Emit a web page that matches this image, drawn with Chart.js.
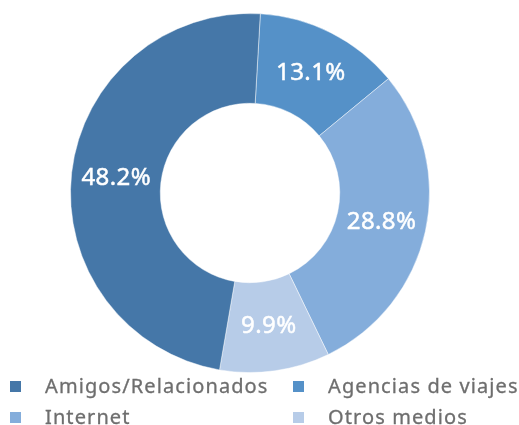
<!DOCTYPE html>
<html>
<head>
<meta charset="utf-8">
<script src="https://cdn.jsdelivr.net/npm/chart.js@4"></script>
<style>
  html, body { margin: 0; padding: 0; background: #fff; }
  #wrap { position: relative; width: 519px; height: 425px; }
  #chart-box { position: absolute; left: 0; top: 0; width: 519px; height: 373px; }
  #legend { position: absolute; left: 0; top: 372px; width: 519px; font-family: "Noto Sans", sans-serif; font-size: 20px; letter-spacing: 1.1px; color: #6e6e6e; }
  .item { position: absolute; height: 28px; line-height: 28px; white-space: nowrap; }
  .box { position: absolute; width: 11px; height: 11px; top: 9px; }
  .txt { position: absolute; -webkit-text-stroke: 0.3px #6e6e6e; }
</style>
</head>
<body>
<div id="wrap">
  <div id="chart-box"><canvas id="pie"></canvas></div>
  <div id="legend"></div>
</div>
<script>
// categories and shares (%)
const labels = ['Agencias de viajes', 'Internet', 'Otros medios', 'Amigos/Relacionados'];
const values = [13.1, 28.8, 9.9, 48.2];
const colors = ['#5591c8', '#84addb', '#b7cce8', '#4577a8'];

// legend order: two columns
const legendOrder = [3, 0, 1, 2];

// draws the percentage inside each slice
const sliceLabels = {
    id: 'sliceLabels',
    afterDatasetsDraw(chart) {
        const ctx = chart.ctx;
        const meta = chart.getDatasetMeta(0);
        ctx.save();
        ctx.fillStyle = '#ffffff';
        ctx.strokeStyle = '#ffffff';
        ctx.lineWidth = 0.5;
        ctx.font = '24px "Noto Sans", sans-serif';
        ctx.letterSpacing = '0.4px';
        ctx.textAlign = 'center';
        ctx.textBaseline = 'middle';
        meta.data.forEach((arc, i) => {
            const p = arc.tooltipPosition();
            const txt = values[i].toFixed(1) + '%';
            ctx.fillText(txt, p.x, p.y);
            ctx.strokeText(txt, p.x, p.y);
        });
        ctx.restore();
    }
};

new Chart(document.getElementById('pie'), {
    type: 'doughnut',
    data: {
        labels: labels,
        datasets: [{
            data: values,
            backgroundColor: colors,
            borderColor: 'rgba(255,255,255,0.45)',
            borderWidth: 1
        }]
    },
    options: {
        responsive: true,
        maintainAspectRatio: false,
        animation: false,
        cutout: '50%',
        rotation: 3.3,
        layout: { padding: { top: 13, bottom: 0, left: 0, right: 19 } },
        plugins: {
            legend: { display: false },
            tooltip: { enabled: false }
        }
    },
    plugins: [sliceLabels]
});

// html legend, two columns
const legend = document.getElementById('legend');
const colX = [10, 293];
const rowY = [0, 31];
legendOrder.forEach((idx, n) => {
    const item = document.createElement('div');
    item.className = 'item';
    item.style.left = colX[n % 2] + 'px';
    item.style.top = rowY[Math.floor(n / 2)] + 'px';
    item.innerHTML = '<span class="box" style="background:' + colors[idx] + '"></span>' +
        '<span class="txt" style="left:35px">' + labels[idx] + '</span>';
    legend.appendChild(item);
});
</script>
</body>
</html>
